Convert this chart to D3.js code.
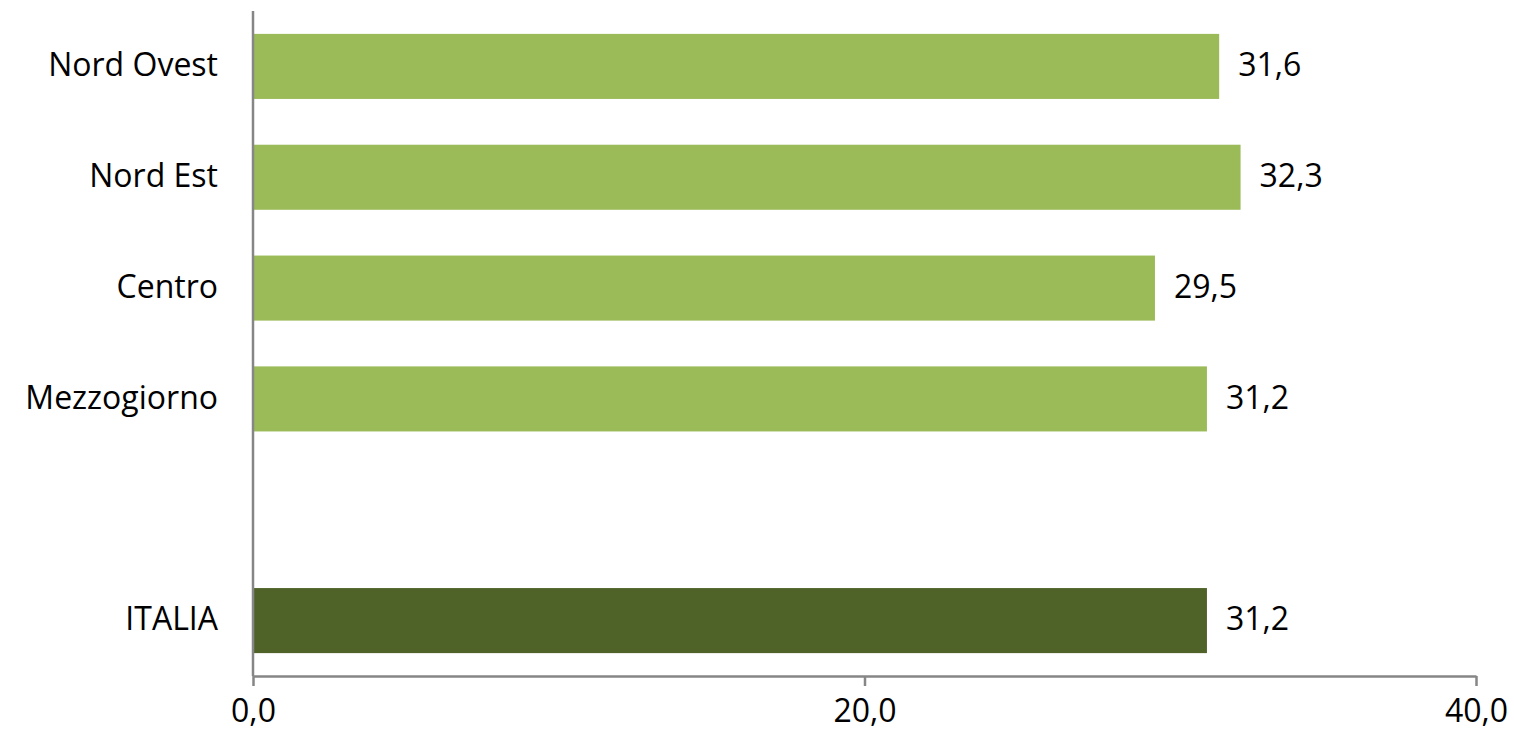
<!DOCTYPE html>
<meta charset="utf-8">
<html>
	<head>
		<script src="https://d3js.org/d3.v7.min.js"></script>
		<style>
			body { margin: 0; background: #fff; }
			text { font-family: "Open Sans", "Noto Sans", sans-serif; fill: #000; }
		</style>
	</head>
	<body>
		<script>
			// data
			var categories = ["Nord Ovest", "Nord Est", "Centro", "Mezzogiorno", "", "ITALIA"];
			var values = [31.6, 32.3, 29.5, 31.2, null, 31.2];
			var barColors = ["#9BBB59", "#9BBB59", "#9BBB59", "#9BBB59", null, "#4F6228"];
			var xTicks = [0, 20, 40];

			var width = 1514, height = 735;
			var margin = {top: 11, right: 38, bottom: 59, left: 253};
			var fontSize = 32;

			var fmt = function(d) { return d3.format(".1f")(d).replace(".", ","); };

			var svg = d3.select("body").append("svg")
				.attr("width", width)
				.attr("height", height);

			var x = d3.scaleLinear()
				.domain([0, 40])
				.range([margin.left, width - margin.right]);

			var y = d3.scaleBand()
				.domain(categories)
				.range([margin.top, height - margin.bottom])
				.paddingInner(0.413)
				.paddingOuter(0.2065);

			var rows = categories.map(function(c, i) {
				return {name: c, value: values[i], color: barColors[i]};
			}).filter(function(d) { return d.value != null; });

			// bars
			svg.append("g").selectAll("rect")
				.data(rows)
				.enter().append("rect")
				.attr("x", x(0))
				.attr("y", function(d) { return y(d.name); })
				.attr("width", function(d) { return x(d.value) - x(0); })
				.attr("height", y.bandwidth())
				.attr("fill", function(d) { return d.color; });

			// value labels
			svg.append("g").selectAll("text")
				.data(rows)
				.enter().append("text")
				.attr("x", function(d) { return x(d.value) + 19; })
				.attr("y", function(d) { return y(d.name) + y.bandwidth() / 2; })
				.attr("dy", "0.3em")
				.attr("font-size", fontSize)
				.text(function(d) { return fmt(d.value); });

			// category labels
			svg.append("g").selectAll("text")
				.data(rows)
				.enter().append("text")
				.attr("x", margin.left - 35)
				.attr("y", function(d) { return y(d.name) + y.bandwidth() / 2; })
				.attr("dy", "0.3em")
				.attr("text-anchor", "end")
				.attr("font-size", fontSize)
				.text(function(d) { return d.name; });

			// x axis
			var xAxis = svg.append("g")
				.attr("transform", "translate(0," + (height - margin.bottom) + ")")
				.call(d3.axisBottom(x).tickValues(xTicks).tickSize(10).tickSizeOuter(0).tickPadding(13).tickFormat(fmt));
			xAxis.select(".domain").attr("stroke", "#868686").attr("stroke-width", 2.5);
			xAxis.selectAll(".tick line").attr("stroke", "#868686").attr("stroke-width", 2.5);
			xAxis.selectAll(".tick text").attr("font-size", fontSize).attr("font-family", "Open Sans, Noto Sans, sans-serif");

			// y axis line
			svg.append("line")
				.attr("x1", x(0)).attr("x2", x(0))
				.attr("y1", margin.top).attr("y2", height - margin.bottom)
				.attr("stroke", "#868686")
				.attr("stroke-width", 2.5);
		</script>
	</body>
</html>
